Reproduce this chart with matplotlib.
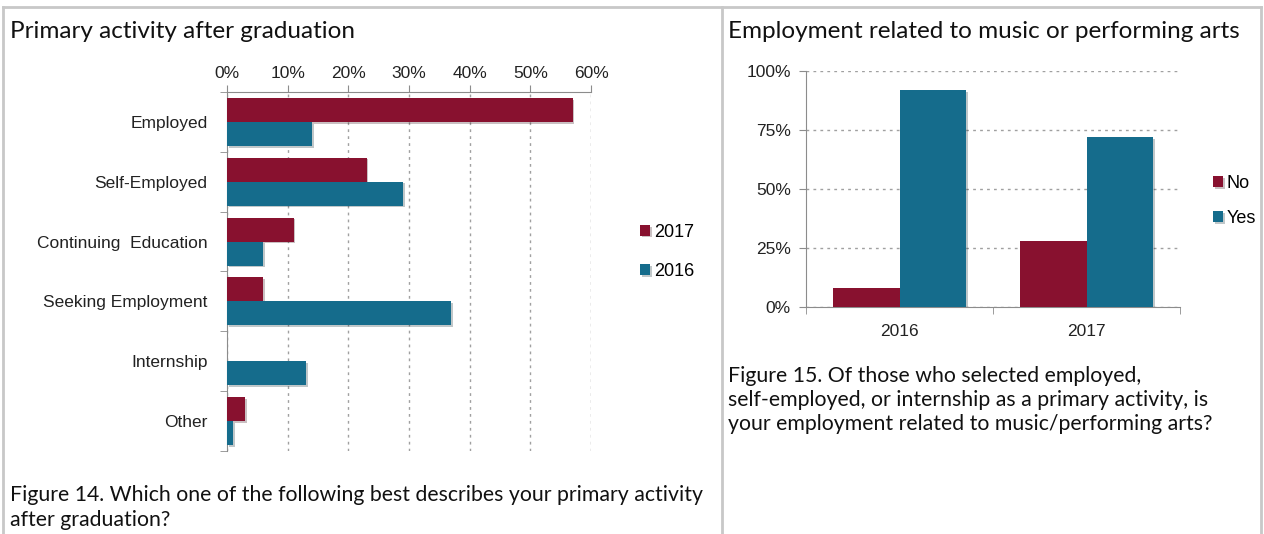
import matplotlib
matplotlib.use('Agg')
from matplotlib import pyplot as plt
from matplotlib import patheffects as pe
from matplotlib.ticker import PercentFormatter
import numpy as np

# left chart data (share of respondents)
activities = ['Employed', 'Self-Employed', 'Continuing  Education',
              'Seeking Employment', 'Internship', 'Other']
pct_2017 = [0.57, 0.23, 0.11, 0.06, 0.0, 0.03]
pct_2016 = [0.14, 0.29, 0.06, 0.37, 0.13, 0.01]

# right chart data
years = ['2016', '2017']
related_no = [0.08, 0.28]
related_yes = [0.92, 0.72]

maroon = '#88112f'
teal = '#156c8c'
axis_grey = '#8c8c8c'
border_grey = '#c8c8c8'

tick_font = 'Liberation Sans'
text_font = 'Lato'

fig = plt.figure(figsize=(12.64, 5.34), dpi=100)
W, H = 1264, 534

def fx(px):
    return px / W

def fy(py):
    return 1 - py / H

# panel borders
for x0, x1, y0, y1 in [(3, 1261, 7, 7), (3, 3, 7, 534), (722, 722, 7, 534), (1261, 1261, 7, 534)]:
    fig.add_artist(plt.Line2D([fx(x0), fx(x1)], [fy(y0), fy(y1)], color=border_grey, lw=2))

shadow = [pe.SimplePatchShadow(offset=(1.2, -1.2), alpha=0.25), pe.Normal()]

# ---------------- left: horizontal bars ----------------
ax1 = fig.add_axes([fx(227), fy(451), fx(591 - 227), (451 - 92) / H])
y = np.arange(len(activities))
h = 0.4
b17 = ax1.barh(y - h / 2, pct_2017, height=h, color=maroon, label='2017', zorder=3)
b16 = ax1.barh(y + h / 2, pct_2016, height=h, color=teal, label='2016', zorder=3)
for b in list(b17) + list(b16):
    b.set_path_effects(shadow)

ax1.set_xlim(0, 0.6)
ax1.set_ylim(len(activities) - 0.5, -0.5)
ax1.xaxis.tick_top()
ax1.set_xticks(np.arange(0, 0.61, 0.1))
ax1.xaxis.set_major_formatter(PercentFormatter(1.0, decimals=0))
ax1.set_yticks(y)
ax1.set_yticklabels(activities)
ax1.set_yticks(np.arange(-0.5, len(activities)), minor=True)
ax1.tick_params(axis='y', which='major', length=0, pad=14)
ax1.tick_params(axis='y', which='minor', length=5, color=axis_grey, direction='out')
ax1.tick_params(axis='x', length=5, color=axis_grey, direction='out', pad=3)
for lab in ax1.get_xticklabels() + ax1.get_yticklabels():
    lab.set_fontfamily(tick_font)
    lab.set_fontsize(12.5)
    lab.set_color('#222222')
ax1.grid(axis='x', linestyle=(0, (2, 3)), color='#a0a0a0', lw=1, zorder=0)
ax1.spines['right'].set_visible(False)
ax1.spines['bottom'].set_visible(False)
ax1.spines['left'].set_color(axis_grey)
ax1.spines['top'].set_color(axis_grey)

fig.legend(handles=[b17, b16], labels=['2017', '2016'], loc='center left',
           bbox_to_anchor=(fx(624), fy(252)), frameon=False, handlelength=0.55,
           handleheight=0.55, handletextpad=0.2, labelspacing=1.25,
           prop={'family': tick_font, 'size': 13})

fig.text(fx(10), fy(31), 'Primary activity after graduation', family=text_font,
         fontsize=17.5, va='center', ha='left', color='#111111')
fig.text(fx(10), fy(495), 'Figure 14. Which one of the following best describes your primary activity',
         family=text_font, fontsize=15.3, va='center', ha='left', color='#111111')
fig.text(fx(10), fy(520), 'after graduation?', family=text_font, fontsize=15.3,
         va='center', ha='left', color='#111111')

# ---------------- right: grouped columns ----------------
ax2 = fig.add_axes([fx(806), fy(307), fx(1180 - 806), (307 - 71) / H])
x = np.arange(len(years))
w = 0.355
c_no = ax2.bar(x - w / 2, related_no, width=w, color=maroon, label='No', zorder=3)
c_yes = ax2.bar(x + w / 2, related_yes, width=w, color=teal, label='Yes', zorder=3)
for b in list(c_no) + list(c_yes):
    b.set_path_effects(shadow)

ax2.set_xlim(-0.5, len(years) - 0.5)
ax2.set_ylim(0, 1.0)
ax2.set_yticks(np.arange(0, 1.01, 0.25))
ax2.yaxis.set_major_formatter(PercentFormatter(1.0, decimals=0))
ax2.set_xticks(x)
ax2.set_xticklabels(years)
ax2.set_xticks(np.arange(-0.5, len(years)), minor=True)
ax2.tick_params(axis='x', which='major', length=0, pad=12)
ax2.tick_params(axis='x', which='minor', length=5, color=axis_grey, direction='out')
ax2.tick_params(axis='y', length=5, color=axis_grey, direction='out', pad=6)
for lab in ax2.get_xticklabels() + ax2.get_yticklabels():
    lab.set_fontfamily(tick_font)
    lab.set_fontsize(12.5)
    lab.set_color('#222222')
ax2.grid(axis='y', linestyle=(0, (2, 3)), color='#a0a0a0', lw=1, zorder=0)
ax2.spines['right'].set_visible(False)
ax2.spines['top'].set_visible(False)
ax2.spines['left'].set_color(axis_grey)
ax2.spines['bottom'].set_color(axis_grey)

fig.legend(handles=[c_no, c_yes], labels=['No', 'Yes'], loc='center left',
           bbox_to_anchor=(fx(1197), fy(201)), frameon=False, handlelength=0.55,
           handleheight=0.55, handletextpad=0.2, labelspacing=1.0,
           prop={'family': tick_font, 'size': 13})

fig.text(fx(728), fy(31), 'Employment related to music or performing arts', family=text_font,
         fontsize=17.5, va='center', ha='left', color='#111111')
caption = ['Figure 15. Of those who selected employed,',
           'self-employed, or internship as a primary activity, is',
           'your employment related to music/performing arts?']
for i, line in enumerate(caption):
    fig.text(fx(728), fy(376 + 24 * i), line, family=text_font, fontsize=15.3,
             va='center', ha='left', color='#111111')

plt.savefig('out.png', dpi=100)
